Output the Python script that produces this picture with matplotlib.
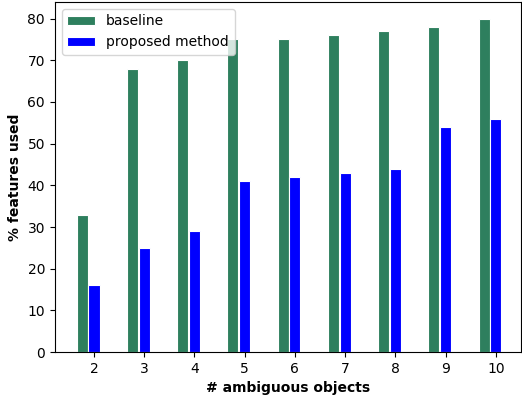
import numpy as np
import matplotlib
matplotlib.use('Agg')
import matplotlib.pyplot as plt

# values
n_objects = [2, 3, 4, 5, 6, 7, 8, 9, 10]
baseline = [33, 68, 70, 75, 75, 76, 77, 78, 80]
proposed = [16, 25, 29, 41, 42, 43, 44, 54, 56]

x = np.array(n_objects)
w = 0.22

fig = plt.figure(figsize=(5.22, 3.96), dpi=100)
ax = fig.add_axes([0.105, 0.111, 0.893, 0.884])
ax.bar(x - 0.235, baseline, width=w, color='#2e7f5e', edgecolor='white', linewidth=0.8, label='baseline')
ax.bar(x, proposed, width=w, color='blue', edgecolor='white', linewidth=0.8, label='proposed method')
ax.set_xticks(x)
ax.set_xlim(1.22, 10.5)
ax.set_ylim(0, 84)
ax.set_xlabel('# ambiguous objects', fontweight='bold')
ax.set_ylabel('% features used', fontweight='bold')
ax.legend(loc='upper left')
fig.savefig('out.png', dpi=100)
